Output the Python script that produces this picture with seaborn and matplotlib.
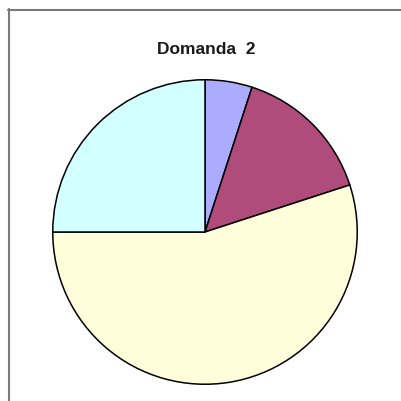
import matplotlib
matplotlib.use("Agg")
import matplotlib.pyplot as plt
from matplotlib.lines import Line2D
import seaborn as sns

categories = ["A", "B", "C", "D"]
values = [5, 15, 55, 25]
colors = ["#ACACFF", "#B04C7C", "#FFFDDA", "#D2FFFF"]
title = "Domanda  2"

sns.set_theme(style="white")
plt.rcParams['font.family'] = ['Liberation Sans', 'DejaVu Sans']

W, H = 402, 401
fig = plt.figure(figsize=(W / 100, H / 100), dpi=100)
fig.patch.set_facecolor("white")

ax = fig.add_axes([52 / W, (H - 385) / H, 306 / W, 306 / H])
ax.pie(values, colors=colors, startangle=90, counterclock=False,
       wedgeprops=dict(edgecolor="black", linewidth=1.1), radius=1.0)
ax.set_xlim(-1.005, 1.005)
ax.set_ylim(-1.005, 1.005)
ax.set_aspect("equal")
ax.axis("off")

fig.text(206 / W, 1 - 49 / H, title, ha="center", va="center",
         fontsize=12.5, fontweight="bold", color="#1a1a1a")

# partial frame (left and top)
fig.add_artist(Line2D([8.5 / W, 8.5 / W], [0, 1 - 9 / H], color="#7a7a7a", linewidth=1.5))
fig.add_artist(Line2D([8 / W, 1], [1 - 9.5 / H, 1 - 9.5 / H], color="#7a7a7a", linewidth=1.5))

fig.savefig("out.png", dpi=100, facecolor="white")
